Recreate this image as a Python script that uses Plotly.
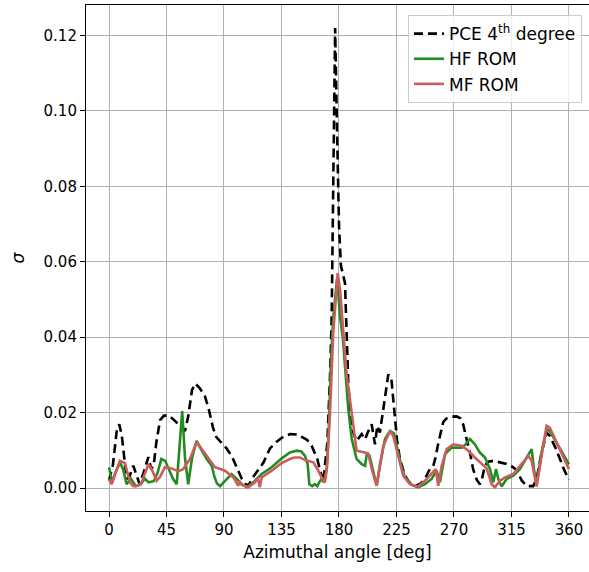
import plotly.graph_objects as go

# ---- data ----
angle_pce = [0, 3, 6, 8, 10, 13.8, 16, 19, 22, 24, 27, 30.8, 33, 35, 37, 40, 43, 47, 51, 55,
             59.5, 62, 65, 67.5, 71, 75, 78, 81.4, 84, 88, 92, 96, 100, 104, 107.8, 110, 113,
             117, 121, 126, 131, 136.4, 142, 147, 152, 155, 158.6, 161, 163, 165, 166.5, 168,
             169, 170.9, 173, 174.3, 175.5, 177, 178.5, 180, 181.5, 183, 184.7, 186, 187.3,
             188.6, 190, 191.2, 193.8, 197.8, 200.4, 203, 205.6, 207, 208.2, 210, 212, 214.7,
             216, 218.6, 221, 223, 225.5, 227.7, 231.6, 235, 240.8, 244, 247.3, 251, 253.8,
             255.5, 257.7, 261.6, 264, 268, 272, 275, 277.3, 279.5, 282.5, 285, 287.8, 290.3,
             292, 294.3, 297, 300.8, 306, 311.2, 315, 319, 323, 327, 332, 334.7, 338.6, 342.5,
             345, 349, 353, 356, 360]
sigma_pce = [0.002, 0.006, 0.015, 0.0169, 0.014, 0.0024, 0.003, 0.0059, 0.003, 0.001, 0.004,
             0.0082, 0.005, 0.006, 0.012, 0.018, 0.0192, 0.0192, 0.018, 0.0165, 0.0151, 0.019,
             0.026, 0.0277, 0.0265, 0.0244, 0.021, 0.016, 0.0135, 0.012, 0.0105, 0.0085, 0.0055,
             0.0024, 0.0006, 0.0012, 0.003, 0.005, 0.0068, 0.0105, 0.0122, 0.0136, 0.0143,
             0.0142, 0.0134, 0.0128, 0.0112, 0.0095, 0.0077, 0.005, 0.0033, 0.0015, 0.0059,
             0.012, 0.0297, 0.0455, 0.08, 0.122, 0.095, 0.07, 0.059, 0.057, 0.0544, 0.041,
             0.0279, 0.0209, 0.0165, 0.0147, 0.0125, 0.0143, 0.0129, 0.0151, 0.0169, 0.014,
             0.0116, 0.0165, 0.0147, 0.0209, 0.024, 0.0301, 0.029, 0.021, 0.0125, 0.0077,
             0.0033, 0.0015, 0.0006, 0.0012, 0.0024, 0.005, 0.0058, 0.008, 0.0118, 0.0175,
             0.0184, 0.0189, 0.019, 0.0185, 0.0168, 0.0135, 0.0094, 0.005, 0.0022, 0.001,
             0.0025, 0.006, 0.007, 0.0072, 0.0068, 0.0064, 0.0058, 0.0048, 0.002, 0.0005,
             0.0005, 0.0024, 0.0094, 0.0147, 0.0138, 0.011, 0.0077, 0.005, 0.0022]

angle_hf = [0, 2.5, 5, 8.6, 11, 13.8, 17, 21, 25, 28, 31, 35, 38, 41, 44, 47, 50, 53, 55.5,
            57.3, 59.5, 62, 65, 68.6, 72, 76.5, 80.4, 82.5, 84.5, 87, 90.8, 96, 100, 104,
            107.8, 113, 119.5, 127.3, 135, 141.6, 147, 150.5, 153.4, 155.5, 156.8, 159, 161,
            163, 164.5, 166.4, 168, 170.4, 172, 173.5, 175.5, 178.5, 181, 183, 187.3, 190,
            193.8, 197.8, 200.4, 202, 204, 207, 209.5, 212, 216, 220, 223, 226.4, 229, 231.6,
            236.8, 242, 247.3, 252.5, 256.4, 259, 263, 268.2, 276, 279, 282.5, 286.4, 290.3,
            294.3, 298.2, 300.8, 302.9, 304.7, 307.3, 311.2, 316.4, 321.6, 326.9, 330.8,
            332.6, 334.7, 338.6, 342.5, 345, 353, 360]
sigma_hf = [0.0055, 0.0015, 0.004, 0.0068, 0.005, 0.001, 0.0025, 0.0005, 0.001, 0.0025,
            0.0015, 0.0018, 0.004, 0.0077, 0.0072, 0.005, 0.0025, 0.001, 0.012, 0.0204,
            0.008, 0.001, 0.008, 0.0125, 0.0103, 0.0077, 0.0059, 0.003, 0.0012, 0.0005,
            0.0019, 0.0037, 0.0024, 0.001, 0.0002, 0.0015, 0.0037, 0.0055, 0.0078, 0.0094,
            0.0099, 0.0097, 0.0085, 0.0063, 0.001, 0.0005, 0.001, 0.0005, 0.0015, 0.0024,
            0.0015, 0.005, 0.015, 0.0315, 0.045, 0.0555, 0.045, 0.04, 0.021, 0.013, 0.0077,
            0.0063, 0.0059, 0.0094, 0.0085, 0.004, 0.0006, 0.006, 0.013, 0.0151, 0.0145,
            0.0094, 0.0055, 0.0028, 0.0008, 0.0002, 0.001, 0.0024, 0.0046, 0.0015, 0.009,
            0.0107, 0.0107, 0.0115, 0.013, 0.0116, 0.0094, 0.0081, 0.005, 0.0015, 0.005,
            0.0024, 0.0004, 0.0024, 0.0033, 0.005, 0.0081, 0.0103, 0.005, 0.001, 0.0094,
            0.0156, 0.0151, 0.0103, 0.0063]

angle_mf = [0, 2, 5, 8.6, 12.5, 16.4, 19, 23, 25.6, 30.8, 33.4, 37.3, 40, 43.8, 49, 54.3, 58,
            63.4, 68.6, 72.5, 77.7, 83, 90.8, 97.3, 101.2, 102, 103, 109, 114.3, 116.5, 118,
            119.5, 127.3, 135, 141.6, 145, 149.5, 153.4, 160, 163.8, 167.7, 169, 170.5, 173,
            175.5, 179, 181, 183.4, 186, 189.6, 191.2, 193.8, 200.4, 203, 206, 209.5, 214.7,
            220, 222.5, 226.4, 230.3, 235.5, 242, 247.3, 252.5, 255.7, 257.7, 260.4, 264.3,
            269.5, 276, 281.2, 286.4, 290.3, 295.6, 299.5, 302, 306, 310, 316.4, 323, 328.2,
            330.8, 334.7, 338.6, 342.5, 345, 353, 360]
sigma_mf = [0.0024, 0.001, 0.004, 0.0072, 0.0066, 0.0015, 0.0005, 0.0006, 0.0015, 0.0063,
            0.005, 0.0019, 0.003, 0.0055, 0.0052, 0.0044, 0.005, 0.0077, 0.0122, 0.0103,
            0.0081, 0.0055, 0.0046, 0.0028, 0.0006, 0.0019, 0.001, 0.0002, 0.0015, 0.0028,
            0.0002, 0.0028, 0.0046, 0.0066, 0.0077, 0.0081, 0.0081, 0.0074, 0.0068, 0.0046,
            0.0019, 0.0015, 0.005, 0.02, 0.041, 0.057, 0.052, 0.041, 0.03, 0.0209, 0.017,
            0.0099, 0.0094, 0.009, 0.0045, 0.0006, 0.0112, 0.0151, 0.0138, 0.0085, 0.0033,
            0.001, 0.0004, 0.0019, 0.0037, 0.005, 0.0006, 0.0059, 0.0103, 0.0116, 0.0112,
            0.0099, 0.0081, 0.0068, 0.0052, 0.001, 0.0002, 0.0019, 0.0028, 0.0037, 0.0063,
            0.0085, 0.0072, 0.0004, 0.0085, 0.0165, 0.016, 0.0103, 0.005]

x_ticks = [0, 45, 90, 135, 180, 225, 270, 315, 360]
y_ticks = [0.00, 0.02, 0.04, 0.06, 0.08, 0.10, 0.12]

FONT = "DejaVu Sans"

fig = go.Figure()
fig.add_trace(go.Scatter(x=angle_pce, y=sigma_pce, mode="lines",
                         name="PCE 4<sup>th</sup> degree",
                         line=dict(color="black", width=2.6, dash="9px,5px")))
fig.add_trace(go.Scatter(x=angle_hf, y=sigma_hf, mode="lines", name="HF ROM",
                         line=dict(color="#228B22", width=2.6)))
fig.add_trace(go.Scatter(x=angle_mf, y=sigma_mf, mode="lines", name="MF ROM",
                         line=dict(color="#CD5C5C", width=2.6)))

axis_common = dict(
    showgrid=True, gridcolor="#b0b0b0", gridwidth=1.1,
    showline=True, linecolor="black", linewidth=1.1, mirror=True,
    ticks="outside", ticklen=5, tickwidth=1.1, tickcolor="black",
    zeroline=False,
    tickfont=dict(family=FONT, size=15, color="black"),
)

fig.update_layout(
    width=589, height=572,
    margin=dict(l=86, r=0, t=5, b=61),
    paper_bgcolor="white", plot_bgcolor="white",
    font=dict(family=FONT, size=15, color="black"),
    showlegend=True,
    legend=dict(
        x=0.986, y=0.98, xanchor="right", yanchor="top",
        bgcolor="rgba(255,255,255,0.8)", bordercolor="#cccccc", borderwidth=1,
        font=dict(family=FONT, size=17, color="black"),
        tracegroupgap=0,
    ),
    xaxis=dict(axis_common, range=[-18, 375.7], tickvals=x_ticks,
               ticktext=[str(v) for v in x_ticks],
               title=dict(text="Azimuthal angle [deg]",
                          font=dict(family=FONT, size=17), standoff=8)),
    yaxis=dict(axis_common, range=[-0.0061, 0.1281], tickvals=y_ticks,
               tickformat=".2f",
               title=dict(text="<i>σ</i>", font=dict(family=FONT, size=17),
                          standoff=14)),
)

fig.write_html("out.html")
